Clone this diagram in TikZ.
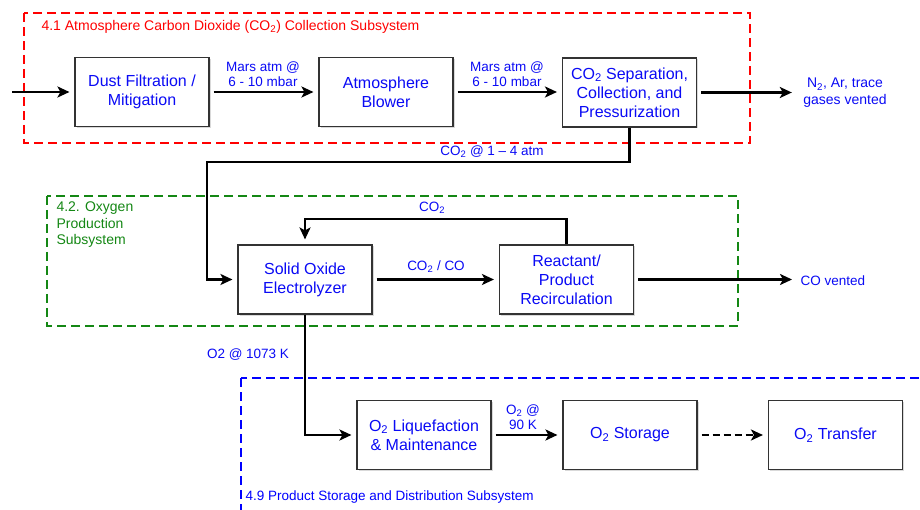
\documentclass[tikz,border=0pt]{standalone}
\usepackage{fontspec}
\setmainfont{Liberation Sans}
\usetikzlibrary{arrows.meta,shadows}
\newcommand{\cotwo}{CO\textsubscript{2}}
\newcommand{\otwo}{O\textsubscript{2}}
\definecolor{txtblue}{RGB}{10,10,245}
\definecolor{frmgreen}{RGB}{20,135,20}

\begin{document}
\begin{tikzpicture}[x=1pt, y=-1pt,
  block/.style={draw=black!80, line width=1.1pt, fill=white, minimum width=134pt, minimum height=69pt,
    align=center, text=txtblue, font=\fontsize{16}{19}\selectfont,
    drop shadow={shadow xshift=1.5pt, shadow yshift=-1.5pt, opacity=0.3}},
  flow/.style={line width=2.5pt, -{Stealth[length=12pt,width=11pt,inset=3pt]}, shorten >=5pt, shorten <=4pt},
  lbl/.style={text=txtblue, align=center, font=\fontsize{13.5}{15.5}\selectfont},
  frame/.style={line width=2.8pt, dash pattern=on 9pt off 5pt},
  title/.style={anchor=west, align=left, font=\fontsize{14}{16.5}\selectfont}]
  \useasboundingbox (0,0) rectangle (920,510);
  \clip (0,0) rectangle (920,510);

  % subsystem frames
  \draw[frame, red] (24,13) rectangle (750,143);
  \draw[frame, frmgreen] (47,196) rectangle (738,326);
  \draw[frame, blue] (241,378) rectangle (930,525);
  \node[title, text=red] (t41) at (38,27) {4.1 Atmosphere Carbon Dioxide (\cotwo) Collection Subsystem};
  \node[title, text=frmgreen] (t42) at (53,225) {4.2. Oxygen\\Production\\Subsystem};
  \node[title, text=blue, font=\fontsize{13.5}{16}\selectfont] (t49) at (242,497) {4.9 Product Storage and Distribution Subsystem};

  % CO2 collection
  \node[block] (dust) at (142,92) {Dust Filtration /\\Mitigation};
  \node[block] (blower) at (386,92) {Atmosphere\\Blower};
  \node[block] (sep) at (629.5,92.5) {\cotwo{} Separation,\\Collection, and\\Pressurization};
  \coordinate (inlet) at (12,92);
  \node[lbl] (mars1) at (263,74) {Mars atm @\\6 - 10 mbar};
  \node[lbl] (mars2) at (507,74) {Mars atm @\\6 - 10 mbar};
  \node[lbl, font=\fontsize{14}{17}\selectfont] (vent) at (845,93) {N\textsubscript{2}, Ar, trace\\gases vented};
  \draw[flow, shorten <=0pt] (inlet) -- (dust.west);
  \draw[flow] (dust.east) -- (blower.west);
  \draw[flow] (blower.east) -- (blower.east -| sep.west);
  \draw[flow, shorten >=8pt] (sep.east) -- (sep.east -| vent.west);

  % oxygen production
  \node[block] (soe) at (305,279.5) {Solid Oxide\\Electrolyzer};
  \node[block] (rr) at (566.5,279.5) {Reactant/\\Product\\Recirculation};
  \coordinate (feed) at (207,162);
  \coordinate (recirc) at (566.5,219);
  \node[lbl] (feedlbl) at (492,152) {\cotwo{} @ 1 -- 4 atm};
  \node[lbl] (recirclbl) at (432,208) {\cotwo};
  \node[lbl] (mixlbl) at (436,267) {\cotwo{} / CO};
  \node[lbl, anchor=west] (covent) at (797,281) {CO vented};
  \draw[flow, shorten <=0pt] (sep.south) |- (feed) |- (soe.west);
  \draw[flow] (soe.east) -- (rr.west);
  \draw[flow, shorten <=0pt] (rr.north) -- (recirc) -| (soe.north);
  \draw[flow] (rr.east) -- (rr.east -| covent.west);

  % product storage
  \node[block] (liq) at (424,435) {\otwo{} Liquefaction\\\& Maintenance};
  \node[block] (store) at (630,435) {\otwo{} Storage};
  \node[block] (transfer) at (835.5,435) {\otwo{} Transfer};
  \node[lbl] (o2lbl) at (248,355) {O2 @ 1073 K};
  \node[lbl] (coldlbl) at (523,417) {\otwo{} @\\90 K};
  \draw[flow, shorten <=0pt] (soe.south) |- (liq.west);
  \draw[flow] (liq.east) -- (store.west);
  \draw[flow, dash pattern=on 7pt off 4pt] (store.east) -- (transfer.west);
\end{tikzpicture}
\end{document}
